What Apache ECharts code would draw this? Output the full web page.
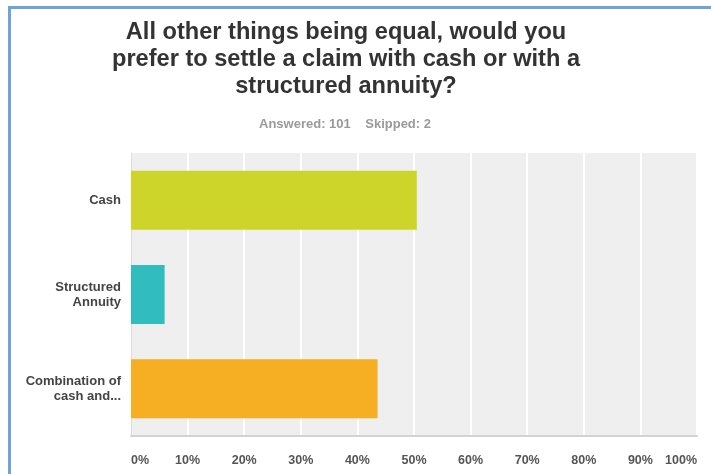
<!DOCTYPE html>
<html>
<head>
<meta charset="utf-8">
<script src="https://cdn.jsdelivr.net/npm/echarts@6/dist/echarts.min.js"></script>
<style>
  html, body { margin: 0; padding: 0; background: #fff; }
  #wrap { position: relative; width: 711px; height: 474px; overflow: hidden; }
  #frame { position: absolute; left: 8px; top: 6px; right: -4px; bottom: -4px;
           border-left: 3px solid #6fa3dc; border-top: 3px solid #6fa3dc; pointer-events: none; }
  #chart { position: absolute; left: 0; top: 0; width: 711px; height: 474px; }
</style>
</head>
<body>
<div id="wrap">
  <div id="chart"></div>
  <div id="frame"></div>
</div>
<script>
// Survey question and response summary
const questionTitle = 'All other things being equal, would you\nprefer to settle a claim with cash or with a\nstructured annuity?';
const answeredCount = 101;
const skippedCount = 2;

// Answer choices and share of respondents (%)
const choices = ['Cash', 'Structured\nAnnuity', 'Combination of\ncash and...'];
const shares = [50.50, 5.94, 43.56];
const choiceColors = ['#cdd42a', '#31bcbd', '#f6ae22'];

// Percentage axis ticks
const axisMin = 0;
const axisMax = 100;
const axisStep = 10;

const chart = echarts.init(document.getElementById('chart'), null, { renderer: 'canvas' });
const font = '"Liberation Sans", Arial, sans-serif';

chart.setOption({
  backgroundColor: '#ffffff',
  animation: false,
  title: [
    {
      text: questionTitle,
      left: 341,
      top: 14,
      textAlign: 'center',
      textStyle: { fontFamily: font, fontSize: 23.6, fontWeight: 'bold', color: '#333333', lineHeight: 27 }
    },
    {
      text: 'Answered: ' + answeredCount + '    Skipped: ' + skippedCount,
      left: 340,
      top: 113,
      textAlign: 'center',
      textStyle: { fontFamily: font, fontSize: 13, fontWeight: 'bold', color: '#9a9a9a' }
    }
  ],
  grid: {
    left: 131, right: 14, top: 153, bottom: 38,
    show: true, backgroundColor: '#efefef', borderWidth: 0
  },
  xAxis: {
    type: 'value',
    min: axisMin, max: axisMax, interval: axisStep,
    axisLine: { show: true, lineStyle: { color: '#d2d2d2', width: 2 } },
    axisTick: { show: false },
    splitLine: { show: true, lineStyle: { color: '#ffffff', width: 2 } },
    axisLabel: {
      formatter: '{value}%', margin: 18,
      fontFamily: font, fontSize: 12.5, fontWeight: 'bold', color: '#555555',
      alignMinLabel: 'left', alignMaxLabel: 'right'
    }
  },
  yAxis: {
    type: 'category',
    data: choices,
    inverse: true,
    axisLine: { show: true, lineStyle: { color: '#dcdcdc', width: 1 } },
    axisTick: { show: false },
    splitLine: { show: false },
    axisLabel: {
      margin: 10, fontFamily: font, fontSize: 13, fontWeight: 'bold',
      color: '#444444', lineHeight: 15, align: 'right'
    }
  },
  series: [{
    type: 'bar',
    barWidth: 59,
    data: shares.map((v, i) => ({ value: v, itemStyle: { color: choiceColors[i] } }))
  }]
});
</script>
</body>
</html>
